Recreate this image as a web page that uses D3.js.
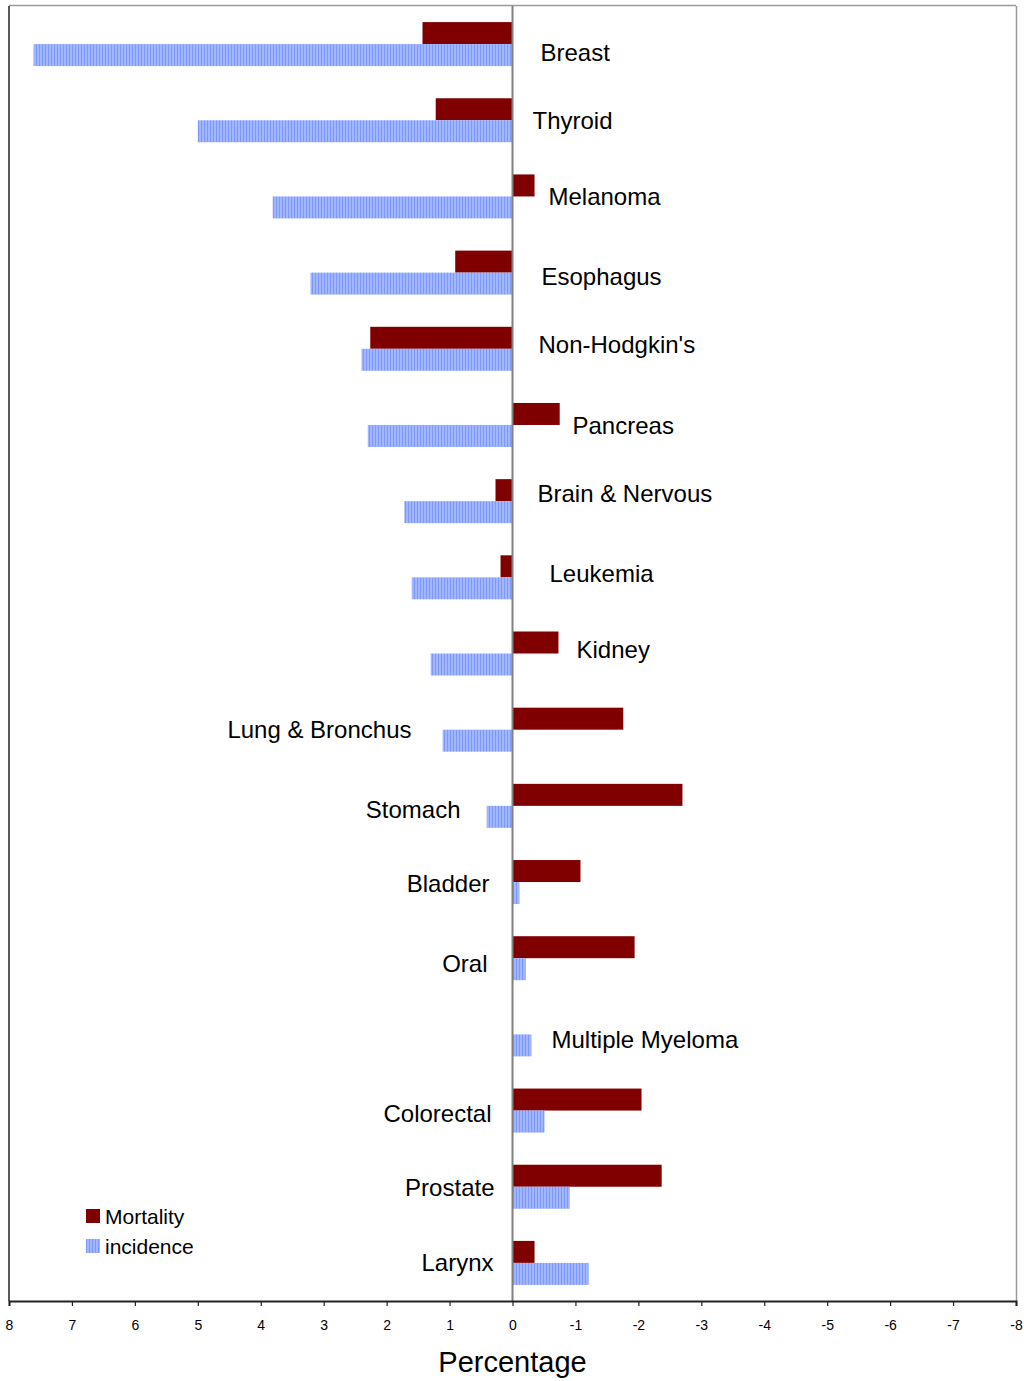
<!DOCTYPE html>
<html>
<head>
<meta charset="utf-8">
<script src="https://cdn.jsdelivr.net/npm/d3@7/dist/d3.min.js"></script>
<style>
  html, body { margin: 0; padding: 0; background: #fff; }
  svg { display: block; font-family: "Liberation Sans", Arial, sans-serif; }
</style>
</head>
<body>
<svg id="chart" width="1024" height="1381"></svg>
<script>
// Cancer sites, top to bottom
const sites = ["Breast", "Thyroid", "Melanoma", "Esophagus", "Non-Hodgkin's", "Pancreas",
  "Brain & Nervous", "Leukemia", "Kidney", "Lung & Bronchus", "Stomach", "Bladder",
  "Oral", "Multiple Myeloma", "Colorectal", "Prostate", "Larynx"];

// Percentage values (positive values extend left, the axis runs 8 to -8)
const mortality = [1.43, 1.22, -0.35, 0.91, 2.26, -0.75, 0.27, 0.19, -0.73, -1.76,
  -2.70, -1.08, -1.94, 0, -2.05, -2.37, -0.35];
const incidence = [7.61, 5.0, 3.81, 3.21, 2.40, 2.30, 1.72, 1.60, 1.30, 1.11,
  0.41, -0.11, -0.21, -0.30, -0.51, -0.91, -1.21];

const tickValues = [8, 7, 6, 5, 4, 3, 2, 1, 0, -1, -2, -3, -4, -5, -6, -7, -8];
const seriesNames = ["Mortality", "incidence"];

// Label placement: [anchor, pixel offset from zero line, vertical offset from band center]
const labelPlacement = [
  ["start", 28, 8], ["start", 20, 0], ["start", 36, 0], ["start", 29, 4],
  ["start", 26, -4], ["start", 60, 1], ["start", 25, -8], ["start", 37, -4],
  ["start", 64, -4], ["end", -101, 0], ["end", -52, 4], ["end", -23, 1],
  ["end", -25, 5], ["start", 39, 5], ["end", -21, 3], ["end", -18, 1],
  ["end", -19, 0]
];

const svg = d3.select("#chart");
const plotLeft = 9, plotRight = 1016, plotTop = 6, plotBottom = 1301;

const x = d3.scaleLinear().domain([8, -8]).range([plotLeft, plotRight]);
const y = d3.scaleBand().domain(sites).range([plotTop, plotBottom]).padding(0);
const barH = 22;

// striped fill for the incidence bars
const defs = svg.append("defs");
const pat = defs.append("pattern").attr("id", "stripes")
  .attr("patternUnits", "userSpaceOnUse").attr("width", 3).attr("height", 10);
pat.append("rect").attr("width", 3).attr("height", 10).attr("fill", "#a2b5ff");
pat.append("rect").attr("width", 1).attr("height", 10).attr("fill", "#7d99fa");

// plot frame
svg.append("line").attr("x1", plotLeft).attr("x2", plotRight).attr("y1", plotTop - 0.5).attr("y2", plotTop - 0.5)
  .attr("stroke", "#9a9a9a").attr("stroke-width", 1.5);
svg.append("line").attr("x1", plotRight + 0.5).attr("x2", plotRight + 0.5).attr("y1", plotTop).attr("y2", plotBottom)
  .attr("stroke", "#9a9a9a").attr("stroke-width", 1.5);
svg.append("line").attr("x1", plotLeft).attr("x2", plotLeft).attr("y1", plotTop).attr("y2", plotBottom)
  .attr("stroke", "#222").attr("stroke-width", 1.5);

const rows = svg.append("g");

// mortality bars
rows.selectAll("rect.mort").data(sites).join("rect").attr("class", "mort")
  .attr("x", (d, i) => Math.min(x(mortality[i]), x(0)))
  .attr("width", (d, i) => Math.abs(x(mortality[i]) - x(0)))
  .attr("y", d => y(d) + y.bandwidth() / 2 - barH)
  .attr("height", barH)
  .attr("fill", "#800000");

// incidence bars
rows.selectAll("rect.inc").data(sites).join("rect").attr("class", "inc")
  .attr("x", (d, i) => Math.min(x(incidence[i]), x(0)))
  .attr("width", (d, i) => Math.abs(x(incidence[i]) - x(0)))
  .attr("y", d => y(d) + y.bandwidth() / 2)
  .attr("height", barH)
  .attr("fill", "url(#stripes)");

// zero line
svg.append("line").attr("x1", x(0)).attr("x2", x(0)).attr("y1", plotTop).attr("y2", plotBottom)
  .attr("stroke", "#808080").attr("stroke-width", 2);

// site labels
rows.selectAll("text.site").data(sites).join("text").attr("class", "site")
  .attr("x", (d, i) => x(0) + labelPlacement[i][1])
  .attr("y", (d, i) => y(d) + y.bandwidth() / 2 + labelPlacement[i][2])
  .attr("text-anchor", (d, i) => labelPlacement[i][0])
  .attr("dominant-baseline", "central")
  .attr("font-size", 24)
  .attr("fill", "#000")
  .text(d => d);

// x axis
const axis = d3.axisBottom(x).tickValues(tickValues).tickSize(5).tickSizeOuter(5)
  .tickFormat(d => String(d));
const ag = svg.append("g").attr("transform", `translate(0,${plotBottom})`).call(axis);
ag.select(".domain").attr("stroke", "#222").attr("stroke-width", 2);
ag.selectAll(".tick line").attr("stroke", "#222").attr("stroke-width", 1.2);
ag.selectAll(".tick text").attr("font-size", 14).attr("y", 29).attr("dy", 0)
  .attr("font-family", "'Liberation Sans', Arial, sans-serif").attr("fill", "#000");

svg.append("text").attr("x", x(0)).attr("y", 1372)
  .attr("text-anchor", "middle").attr("font-size", 29).attr("fill", "#000")
  .text("Percentage");

// legend
const lg = svg.append("g").attr("transform", "translate(86,1209)");
const fills = ["#800000", "url(#stripes)"];
seriesNames.forEach((name, i) => {
  lg.append("rect").attr("x", 0).attr("y", i * 30).attr("width", 14).attr("height", 14)
    .attr("fill", fills[i]);
  lg.append("text").attr("x", 19).attr("y", i * 30 + 7).attr("dominant-baseline", "central")
    .attr("font-size", 21).attr("fill", "#000").text(name);
});
</script>
</body>
</html>
